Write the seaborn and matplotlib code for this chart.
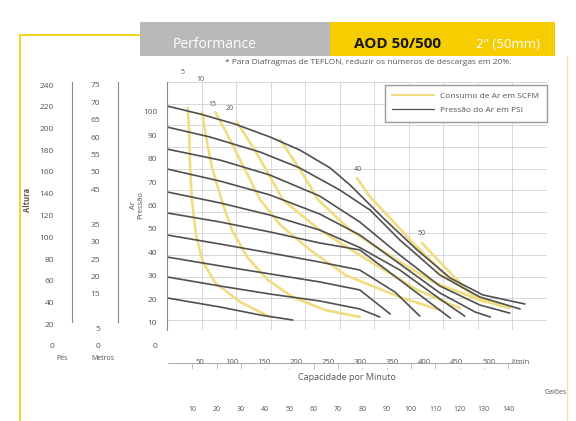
import numpy as np
import pandas as pd
import matplotlib.pyplot as plt
import seaborn as sns
from matplotlib.lines import Line2D
from matplotlib.patches import Rectangle

sns.set_style("white")
plt.rcParams['font.family'] = ['Open Sans', 'DejaVu Sans']

# Curvas de pressao do ar (psi): vazao em l/min x altura em psi
pressao_nomes = ['100', '90', '80', '70', '60', '50', '40', '30', '20', '10']
pressao_lpm = [
    [0, 48, 98, 149, 192, 236, 265, 313, 362, 410, 457, 518],
    [0, 62, 135, 192, 250, 294, 337, 395, 453, 511],
    [0, 77, 149, 221, 279, 337, 395, 453, 496],
    [0, 77, 149, 221, 279, 337, 395, 446, 468],
    [0, 77, 149, 221, 279, 337, 395, 431],
    [0, 77, 149, 221, 279, 337, 381, 410],
    [0, 77, 149, 221, 279, 330, 366],
    [0, 77, 149, 221, 279, 323],
    [0, 77, 149, 221, 279, 308],
    [0, 77, 135, 182],
]
pressao_psi = [
    [98.9, 95.2, 90.6, 84.6, 78.6, 70.3, 62.4, 47.1, 32.4, 19.4, 11.6, 7.4],
    [89.2, 84.6, 77.6, 70.3, 60.1, 50.8, 37.0, 20.8, 10.6, 5.1],
    [79.0, 73.9, 67.0, 57.3, 45.3, 30.0, 15.7, 6.9, 3.2],
    [69.8, 64.2, 57.8, 49.0, 39.3, 25.9, 12.5, 3.7, 1.4],
    [59.2, 54.1, 48.5, 41.6, 33.5, 23.1, 9.7, 1.8],
    [49.5, 45.3, 40.7, 35.6, 32.4, 18.5, 7.9, 0.9],
    [39.3, 35.1, 31.0, 26.8, 23.1, 12.9, 1.8],
    [29.1, 25.0, 21.3, 17.6, 13.9, 2.8],
    [19.9, 15.7, 12.0, 8.8, 5.1, 1.4],
    [10.2, 6.0, 2.3, 0.0],
]

# Curvas de consumo de ar (SCFM)
consumo_nomes = ['5', '10', '15', '20', '30', '40', '50']
consumo_lpm = [
    [30, 32, 33, 36, 42, 52, 70, 106, 149],
    [51, 56, 65, 80, 94, 116, 146, 182, 229, 279],
    [70, 84, 106, 135, 164, 207, 258, 337, 395],
    [101, 127, 168, 221, 279, 362, 424],
    [164, 193, 219, 265, 337, 385, 453, 496],
    [275, 294, 323, 352, 410, 449, 482],
    [369, 395, 434, 460],
]
consumo_psi = [
    [98.0, 87.8, 73.9, 55.5, 39.3, 26.8, 17.1, 8.3, 1.4],
    [96.1, 85.5, 70.7, 54.5, 41.6, 29.1, 18.5, 10.6, 4.6, 1.4],
    [96.1, 87.8, 73.9, 55.5, 43.9, 32.4, 20.8, 10.6, 4.6],
    [91.5, 78.6, 55.5, 41.6, 30.0, 13.9, 5.5],
    [83.2, 69.3, 55.5, 41.6, 26.8, 17.6, 9.2, 5.5],
    [65.6, 56.8, 47.1, 37.0, 18.5, 10.6, 6.9],
    [35.6, 26.8, 13.9, 8.3],
]
consumo_rotulos = ['5', '10', '15', '20', '', '40', '50']
rotulo_offsets = [(-4, 23), (-1, 21), (-2, 3), (-5, 7), (0, 0), (1, 4), (0, 4)]

# Escalas laterais e inferiores
pes_ticks = [0, 20, 40, 60, 80, 100, 120, 140, 160, 180, 200, 220, 240]
metros_ticks = [0, 5, 15, 20, 25, 30, 35, 45, 50, 55, 60, 65, 70, 75]
psi_ticks = [0, 10, 20, 30, 40, 50, 60, 70, 80, 90, 100]
lpm_ticks = [50, 100, 150, 200, 250, 300, 350, 400, 450, 500, 550]
lpm_labels = ['50', '100', '150', '200', '250', '300', '350', '400', '450', '500', 'l/min']
galoes_ticks = [10, 20, 30, 40, 50, 60, 70, 80, 90, 100, 110, 120, 130, 140]

COR_ESCURA = '#505050'
COR_AMARELA = '#f1dc80'
COR_FAIXA = '#f5cd00'
COR_CINZA = '#b9b9b9'
COR_TEXTO = '#555555'

W, H = 576, 421


def caixa(x0, y0, x1, y1):
    return [x0 / W, 1 - y1 / H, (x1 - x0) / W, (y1 - y0) / H]


def tabela(nomes, xs, ys):
    linhas = []
    for nome, xx, yy in zip(nomes, xs, ys):
        for i, (a, b) in enumerate(zip(xx, yy)):
            linhas.append((nome, i, a, b))
    return pd.DataFrame(linhas, columns=['curva', 'ordem', 'lpm', 'psi'])


df_pressao = tabela(pressao_nomes, pressao_lpm, pressao_psi)
df_consumo = tabela(consumo_nomes, consumo_lpm, consumo_psi)

fig = plt.figure(figsize=(W / 100, H / 100), dpi=100)

# Grafico principal
ax = fig.add_axes(caixa(167, 82, 547, 330))
sns.lineplot(data=df_consumo, x='lpm', y='psi', units='curva', estimator=None,
             sort=False, color=COR_AMARELA, linewidth=1.9, ax=ax)
sns.lineplot(data=df_pressao, x='lpm', y='psi', units='curva', estimator=None,
             sort=False, color=COR_ESCURA, linewidth=1.2, ax=ax)
ax.set_xlim(0, 550)
ax.set_ylim(-4.62, 110)
ax.set_xticks(range(0, 551, 50))
ax.set_yticks(range(0, 111, 10))
ax.grid(True, color='#d2d2d2', linewidth=0.6)
ax.set_axisbelow(True)
ax.set_xlabel('')
ax.set_ylabel('')
ax.tick_params(axis='x', length=0, labelbottom=False)
ax.tick_params(axis='y', direction='inout', length=4, width=0.6,
               color='#777777', labelleft=False)
for s in ['top', 'right', 'bottom']:
    ax.spines[s].set_visible(False)
ax.spines['left'].set_color('#8a8a8a')
ax.spines['left'].set_linewidth(0.8)

for nome, xx, yy, rot, off in zip(consumo_nomes, consumo_lpm, consumo_psi,
                                  consumo_rotulos, rotulo_offsets):
    if rot:
        ax.annotate(rot, (xx[0], yy[0]), xytext=off, textcoords='offset points',
                    fontsize=5, color=COR_TEXTO, ha='center', va='bottom',
                    annotation_clip=False)

ax.legend(handles=[Line2D([], [], color=COR_AMARELA, lw=1.6),
                   Line2D([], [], color=COR_ESCURA, lw=0.9)],
          labels=['Consumo de Ar em SCFM', 'Pressão do Ar em PSI'],
          loc='upper right', bbox_to_anchor=(1.0, (330 - 85) / 248),
          fontsize=6, frameon=True, fancybox=False, edgecolor='#9a9a9a',
          framealpha=1, handlelength=5, borderaxespad=0, borderpad=0.9,
          labelspacing=0.7, labelcolor=COR_TEXTO)

# Escalas da esquerda: pes, metros e psi
ax_pes = fig.add_axes(caixa(72, 85, 73, 346))
ax_pes.set_ylim(0, 240)
ax_pes.set_yticks(pes_ticks)
ax_pes.set_yticks(range(10, 240, 20), minor=True)
ax_pes.spines['left'].set_bounds(22, 243)

ax_m = fig.add_axes(caixa(118, 85, 119, 346))
ax_m.set_ylim(0, 75)
ax_m.set_yticks(metros_ticks)
ax_m.set_yticks(np.arange(2.5, 75, 5), minor=True)
ax_m.spines['left'].set_bounds(7, 76)

ax_psi = fig.add_axes(caixa(167, 85, 168, 346))
ax_psi.set_ylim(0, 111.5)
ax_psi.set_yticks(psi_ticks)
ax_psi.spines['left'].set_visible(False)

for a in [ax_pes, ax_m, ax_psi]:
    a.set_facecolor('none')
    a.set_xticks([])
    for s in ['top', 'right', 'bottom']:
        a.spines[s].set_visible(False)
    a.spines['left'].set_color('#8a8a8a')
    a.spines['left'].set_linewidth(0.8)
    a.tick_params(axis='y', which='major', length=0, labelsize=6,
                  labelcolor=COR_TEXTO, pad=13)
    a.tick_params(axis='y', which='minor', length=5, width=0.6,
                  color='#8a8a8a', direction='out')
ax_psi.tick_params(axis='y', which='major', pad=7)

# Escala de vazao (l/min) e galoes
ax_lpm = fig.add_axes(caixa(168, 362, 521, 363))
ax_lpm.set_facecolor('none')
ax_lpm.set_xlim(0, 550)
ax_lpm.set_yticks([])
for s in ['top', 'right', 'left']:
    ax_lpm.spines[s].set_visible(False)
ax_lpm.spines['bottom'].set_color('#9a9a9a')
ax_lpm.spines['bottom'].set_linewidth(0.6)
ax_lpm.set_xticks(lpm_ticks, labels=lpm_labels)
ax_lpm.tick_params(axis='x', length=0, pad=-2.6, labelsize=5.5,
                   labelcolor=COR_TEXTO)
for lab in ax_lpm.get_xticklabels():
    lab.set_bbox(dict(facecolor='white', edgecolor='none', pad=1.2))

sec = ax_lpm.secondary_xaxis('bottom', functions=(lambda v: v / 3.785,
                                                  lambda v: v * 3.785))
sec.set_xticks(galoes_ticks)
sec.spines['bottom'].set_visible(False)
sec.tick_params(axis='x', length=4, width=0.5, color='#aaaaaa', pad=27,
                labelsize=5, labelcolor=COR_TEXTO)

# Textos
fig.text(347 / W, 1 - 377 / H, 'Capacidade por Minuto', fontsize=6.5,
         color=COR_TEXTO, ha='center', va='center')
fig.text(556 / W, 1 - 392 / H, 'Galões', fontsize=5, color=COR_TEXTO,
         ha='center', va='center')
fig.text(62 / W, 1 - 358 / H, 'Pés', fontsize=5, color=COR_TEXTO,
         ha='center', va='center')
fig.text(103 / W, 1 - 358 / H, 'Metros', fontsize=5, color=COR_TEXTO,
         ha='center', va='center')
fig.text(28 / W, 1 - 200 / H, 'Altura', fontsize=5.5, color=COR_TEXTO,
         rotation=90, ha='center', va='center', fontweight='bold')
fig.text(137 / W, 1 - 205 / H, 'Ar\nPressão', fontsize=5.5, color=COR_TEXTO,
         rotation=90, ha='center', va='center', linespacing=1.0)

# Cabecalho
fig.add_artist(Rectangle((140 / W, 1 - 56 / H), 190 / W, 34 / H,
                         transform=fig.transFigure, color=COR_CINZA, lw=0))
fig.add_artist(Rectangle((330 / W, 1 - 56 / H), 225 / W, 34 / H,
                         transform=fig.transFigure, color=COR_FAIXA, lw=0))
fig.add_artist(Line2D([20 / W, 140 / W], [1 - 35 / H, 1 - 35 / H],
                      transform=fig.transFigure, color=COR_FAIXA, lw=1.2))
fig.add_artist(Line2D([20 / W, 20 / W], [1 - 35 / H, 0],
                      transform=fig.transFigure, color=COR_FAIXA, lw=1.2))
fig.add_artist(Line2D([567 / W, 567 / W], [1 - 56 / H, 0],
                      transform=fig.transFigure, color='#f8e79a', lw=1.0))
fig.text(215 / W, 1 - 45 / H, 'Performance', fontsize=10, color='white',
         ha='center', va='center')
fig.text(398 / W, 1 - 44 / H, 'AOD 50/500', fontsize=11, color='#1a1a1a',
         fontweight='bold', ha='center', va='center')
fig.text(508 / W, 1 - 45 / H, '2" (50mm)', fontsize=9.5, color='white',
         ha='center', va='center')
fig.text(368 / W, 1 - 63 / H,
         '* Para Diafragmas de TEFLON, reduzir os números de descargas em 20%.',
         fontsize=6, color=COR_TEXTO, ha='center', va='center')

plt.savefig('out.png', dpi=100)
